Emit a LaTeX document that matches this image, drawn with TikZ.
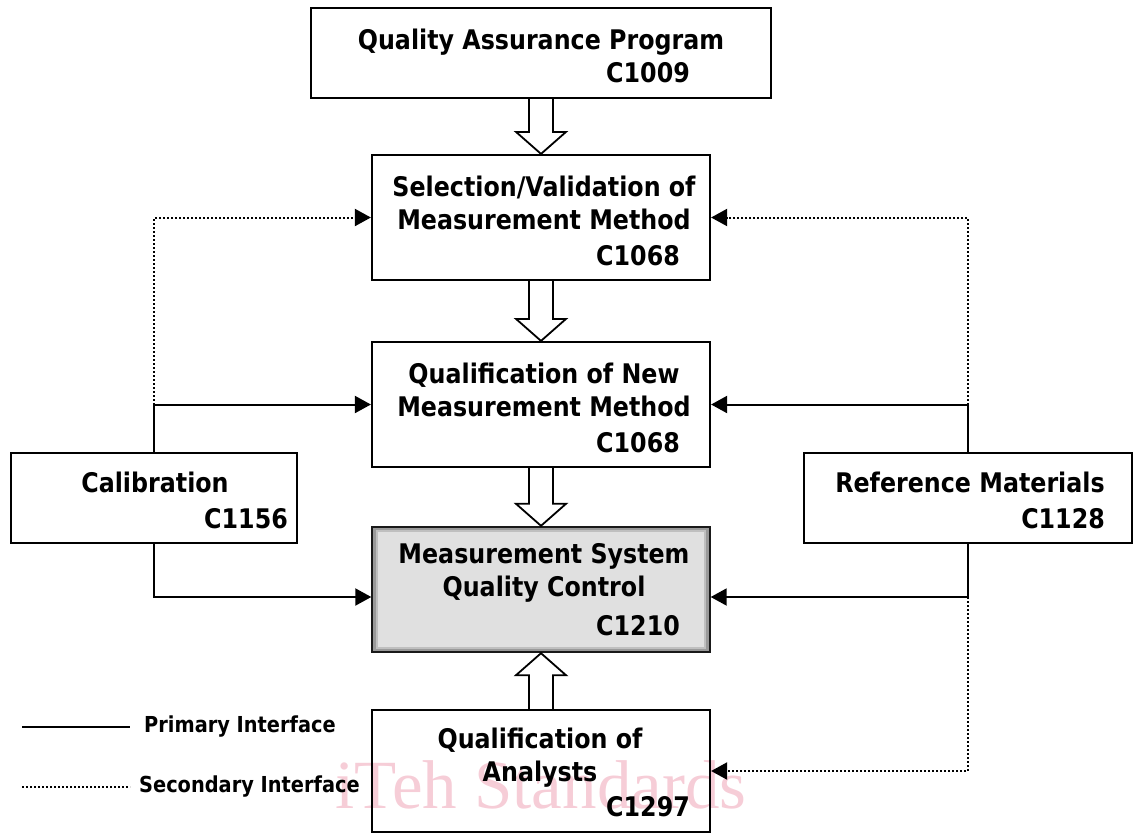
\documentclass[tikz,border=0pt]{standalone}
\usepackage{fontspec}
\setmainfont{DejaVu Sans}[FakeStretch=0.88]
\newfontfamily\wmfont{Liberation Serif}
\usetikzlibrary{arrows.meta,calc}

\definecolor{wmpink}{RGB}{246,205,215}
\definecolor{boxgray}{RGB}{224,224,224}

\newcommand{\headlen}{22}
\newcommand{\headhalf}{25}
\newcommand{\shafthalf}{12}
% hollow block arrow: from, to, 1 = down / -1 = up
\newcommand{\blockarrow}[3]{
  \draw[line width=1.8pt, fill=white] ($(#1)+(-\shafthalf,0)$) -- ($(#2)+(-\shafthalf,{-(#3)*\headlen})$)
    -- ($(#2)+(-\headhalf,{-(#3)*\headlen})$) -- (#2) -- ($(#2)+(\headhalf,{-(#3)*\headlen})$)
    -- ($(#2)+(\shafthalf,{-(#3)*\headlen})$) -- ($(#1)+(\shafthalf,0)$);
}

\tikzset{
  box/.style={draw, line width=2.2pt, inner sep=0pt},
  mainbox/.style={box, fill=boxgray, draw=black!90, line width=2.4pt},
  title/.style={anchor=north, align=center, inner sep=0pt, font=\fontsize{27}{33}\selectfont\bfseries},
  code/.style={anchor=base east, inner sep=0pt, font=\fontsize{27}{33}\selectfont\bfseries},
  legendtext/.style={anchor=west, inner sep=0pt, font=\fontsize{22}{26}\selectfont\bfseries},
  primary/.style={draw, line width=2pt, -{Triangle[length=16pt,width=17pt]}},
  secondary/.style={primary, dash pattern=on 2pt off 2pt},
  wm/.style={anchor=base, inner sep=0pt, text=wmpink, font=\wmfont\fontsize{69}{69}\selectfont}
}

\begin{document}
\begin{tikzpicture}[x=1pt, y=-1pt]
\useasboundingbox (0,0) rectangle (1134,833);

% watermark (behind the boxes)
\node[wm] (watermark) at (541,808) {iTeh Standards};

% boxes
\node[box, minimum width=460pt, minimum height=90pt] (qa) at (541,53) {};
\node[box, minimum width=338pt, minimum height=125pt] (sel) at (541,217.5) {};
\node[box, minimum width=338pt, minimum height=125pt] (qnew) at (541,404.5) {};
\node[mainbox, minimum width=337pt, minimum height=125pt] (msqc) at (541,589.5) {};
\draw[black!40, line width=2.5pt] ($(msqc.north west)+(3.2,3.2)$) rectangle ($(msqc.south east)+(-3.2,-3.2)$);
\draw[black!25, line width=2pt] ($(msqc.north west)+(5.5,5.5)$) rectangle ($(msqc.south east)+(-5.5,-5.5)$);
\node[box, minimum width=338pt, minimum height=122pt] (ana) at (541,771) {};
\node[box, minimum width=286pt, minimum height=90pt] (cal) at (154,498) {};
\node[box, minimum width=328pt, minimum height=90pt] (ref) at (968,498) {};

% texts
\node[title] (qa-t) at (541,28.5) {Quality Assurance Program};
\node[code] (qa-c) at (690,82) {C1009};
\node[title] (sel-t) at (544,175.5) {Selection/Validation of\\Measurement Method};
\node[code] (sel-c) at (680,265) {C1068};
\node[title] (qnew-t) at (544,362.5) {Qualification of New\\Measurement Method};
\node[code] (qnew-c) at (680,452) {C1068};
\node[title] (msqc-t) at (544,543) {Measurement System\\Quality Control};
\node[code] (msqc-c) at (680,635) {C1210};
\node[title] (ana-t) at (540,727.5) {Qualification of\\Analysts};
\node[code] (ana-c) at (690,816) {C1297};
\node[title] (cal-t) at (155,471.5) {Calibration};
\node[code] (cal-c) at (288,528) {C1156};
\node[title] (ref-t) at (970,471.5) {Reference Materials};
\node[code] (ref-c) at (1105,528) {C1128};

% main flow
\blockarrow{qa.south}{sel.north}{1}
\blockarrow{sel.south}{qnew.north}{1}
\blockarrow{qnew.south}{msqc.north}{1}
\blockarrow{ana.north}{msqc.south}{-1}

% interfaces
\coordinate (msqcL) at ([yshift=-7.5pt]msqc.west);
\coordinate (msqcR) at ([yshift=-7.5pt]msqc.east);
\draw[primary] (cal.north) |- (qnew.west);
\draw[secondary] (cal.north |- qnew.west) |- (sel.west);
\draw[primary] (cal.south) |- (msqcL);
\draw[primary] (ref.north) |- (qnew.east);
\draw[secondary] (ref.north |- qnew.east) |- (sel.east);
\draw[primary] (ref.south) |- (msqcR);
\draw[secondary] (ref.south |- msqcR) |- (ana.east);

% legend
\coordinate (p1) at (22,727);
\coordinate (p2) at (130,727);
\coordinate (s1) at (22,787);
\coordinate (s2) at (130,787);
\draw[primary, -] (p1) -- (p2);
\draw[secondary, -] (s1) -- (s2);
\node[legendtext] (p-t) at (144,727) {Primary Interface};
\node[legendtext] (s-t) at (139,787) {Secondary Interface};

\end{tikzpicture}
\end{document}
